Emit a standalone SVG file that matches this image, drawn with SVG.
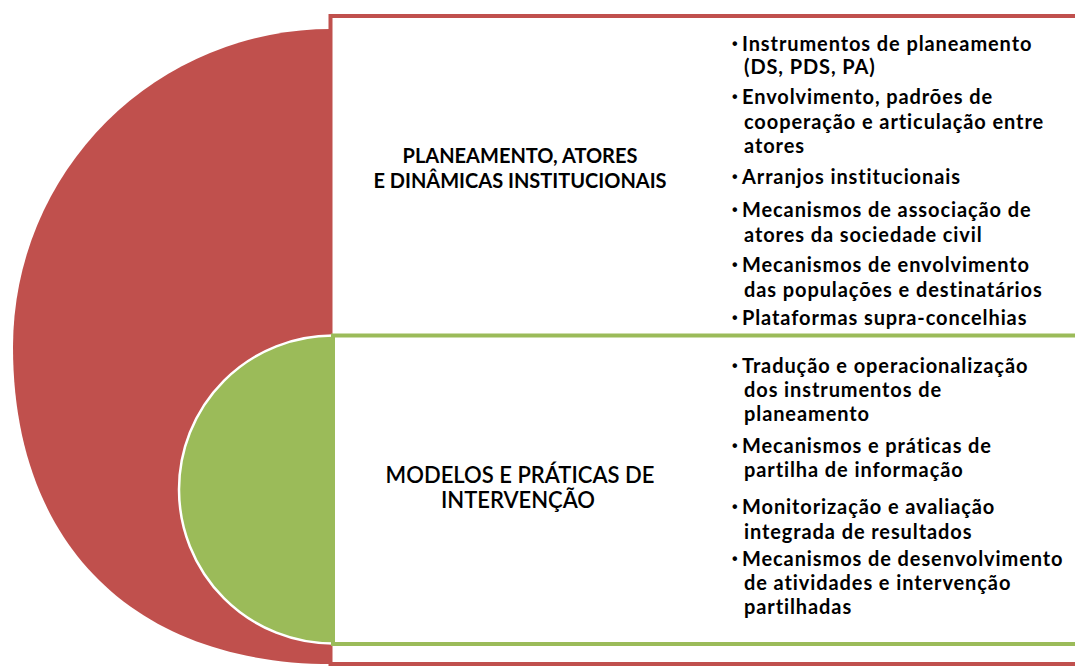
<svg xmlns="http://www.w3.org/2000/svg" width="1075" height="666" viewBox="0 0 1075 666">
<style>
.red{fill:#C0504D}
.box{fill:#FFFFFF;stroke-width:4}
.lab{font-family:Lato,"Open Sans","Liberation Sans",sans-serif;font-size:20px;font-weight:700;fill:#000;text-anchor:middle}
.it{font-family:Lato,"Open Sans","Liberation Sans",sans-serif;font-size:20px;font-weight:700;fill:#000;letter-spacing:0.9px}
.bu{font-family:"Liberation Sans",sans-serif;font-size:16px;font-weight:700;fill:#000}
</style>
<rect width="1075" height="666" fill="#FFFFFF"/>
<g id="node-planeamento">
  <rect class="box" x="330.5" y="16" width="800" height="648" stroke="#C0504D"/>
  <path class="red" d="M332,29 A318,318 0 0 0 13,347 C13,545 135,664 332,664 Z"/>
  <text class="lab"><tspan x="520" y="163">PLANEAMENTO, ATORES</tspan><tspan x="520" y="188">E DINÂMICAS INSTITUCIONAIS</tspan></text>
  <g class="bu">
    <text x="732" y="49">•</text>
    <text x="732" y="102">•</text>
    <text x="732" y="182">•</text>
    <text x="732" y="215">•</text>
    <text x="732" y="270">•</text>
    <text x="732" y="323">•</text>
  </g>
  <g class="it">
    <text x="742" y="51">Instrumentos de planeamento</text>
    <text x="744" y="74">(DS, PDS, PA)</text>
    <text x="742" y="104">Envolvimento, padrões de</text>
    <text x="744" y="129">cooperação e articulação entre</text>
    <text x="744" y="153">atores</text>
    <text x="742" y="184">Arranjos institucionais</text>
    <text x="742" y="217">Mecanismos de associação de</text>
    <text x="744" y="242">atores da sociedade civil</text>
    <text x="742" y="272">Mecanismos de envolvimento</text>
    <text x="744" y="297">das populações e destinatários</text>
    <text x="742" y="325">Plataformas supra-concelhias</text>
  </g>
</g>
<g id="node-modelos">
  <circle cx="333" cy="489.5" r="154" fill="#9BBB59" stroke="#FFFFFF" stroke-width="2.5"/>
  <rect class="box" x="333" y="335.5" width="800" height="308.5" stroke="#9BBB59" stroke-width="3.5"/>
  <text class="lab" style="font-weight:600;font-size:22px"><tspan x="520" y="483">MODELOS E PRÁTICAS DE</tspan><tspan x="518" y="508">INTERVENÇÃO</tspan></text>
  <g class="bu">
    <text x="732" y="371">•</text>
    <text x="732" y="451">•</text>
    <text x="732" y="512">•</text>
    <text x="732" y="564">•</text>
  </g>
  <g class="it">
    <text x="742" y="373">Tradução e operacionalização</text>
    <text x="744" y="397">dos instrumentos de</text>
    <text x="744" y="421">planeamento</text>
    <text x="742" y="453">Mecanismos e práticas de</text>
    <text x="744" y="477">partilha de informação</text>
    <text x="742" y="514">Monitorização e avaliação</text>
    <text x="744" y="539">integrada de resultados</text>
    <text x="742" y="566">Mecanismos de desenvolvimento</text>
    <text x="744" y="590">de atividades e intervenção</text>
    <text x="744" y="614">partilhadas</text>
  </g>
</g>
<g id="connectors"></g>
</svg>
